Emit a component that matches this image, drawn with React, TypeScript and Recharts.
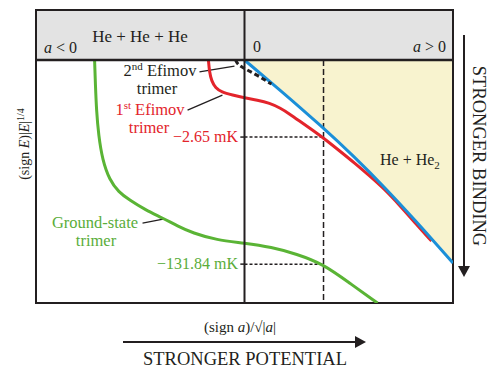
import React from 'react';
import { ComposedChart, Line, Area, XAxis, YAxis, ReferenceLine, ReferenceArea } from 'recharts';

// x: (sign a)/sqrt|a| scaled to [-100, 100]; y: (sign E)|E|^1/4 scaled, 0 = threshold, header band up to 20.6
const groundX = [-71.9, -71.5, -71.0, -70.0, -68.1, -64.7, -60.4, -55.2, -47.5, -39.3, -32.1, -24.9, -13.4, 0, 12.9, 24.9, 37.9, 50.4, 63.8];
const groundY = [0, -10.3, -20.6, -30.9, -41.2, -49.4, -54.3, -57.6, -61.7, -65.0, -68.3, -71.2, -74.1, -75.3, -77.0, -79.8, -84.0, -91.8, -100];

const firstX = [-17.3, -16.8, -15.8, -13.9, -11.0, -5.8, 0, 6.2, 12.0, 17.3, 21.6, 26.4, 31.2, 37.9, 45.6, 52.8, 60.0, 67.1, 74.3, 81.5, 89.7];
const firstY = [0, -4.9, -8.6, -11.5, -13.2, -14.4, -15.6, -16.5, -17.7, -19.8, -22.2, -25.1, -28.0, -32.1, -37.4, -42.4, -47.7, -53.1, -59.7, -66.7, -74.5];

const secondX = [-4.3, -3.4, -1.4, 5.3, 12.9];
const secondY = [0, -1.6, -2.9, -5.8, -9.9];

const dimerX = [0, 17.7, 36.9, 52.8, 67.1, 81.5, 100];
const dimerY = [0, -12.8, -27.2, -39.9, -52.3, -65.6, -83.5];

const heliumX = 37.9;          // physical 4He point
const level1 = -31.7;          // -2.65 mK
const level0 = -84.0;          // -131.84 mK
const levelLabels = ['\u22122.65 mK', '\u2212131.84 mK'];

const X_MIN = -100, X_MAX = 100, Y_MIN = -100, Y_TOP = 20.6;

const toPts = (xs: number[], ys: number[]) => xs.map((x, i) => ({ x, y: ys[i] }));
const groundData = toPts(groundX, groundY);
const firstData = toPts(firstX, firstY);
const secondData = toPts(secondX, secondY);
const dimerData = toPts(dimerX, dimerY);
const bandData = dimerX.map((x, i) => ({ x, band: [dimerY[i], 0] }));

const RED = '#e3242b';
const BLUE = '#1b8fd8';
const GREEN = '#5ab435';
const GREEN_T = '#5aad3a';
const INK = '#231f20';
const FONT = '"Liberation Serif", "DejaVu Serif", serif';

export default function App() {
  return (
    <div style={{ position: 'absolute', left: 0, top: 0, width: 500, height: 375, background: '#fff' }}>
      <ComposedChart width={500} height={375} margin={{ top: 10, right: 47, bottom: 72, left: 36 }}>
        <XAxis type="number" dataKey="x" domain={[X_MIN, X_MAX]} allowDataOverflow hide />
        <YAxis type="number" domain={[Y_MIN, Y_TOP]} allowDataOverflow hide />
        <Area data={bandData} dataKey="band" type="basis" stroke="none" fill="#f8f3cf" fillOpacity={1} isAnimationActive={false} />
        <ReferenceArea x1={X_MIN} x2={X_MAX} y1={0} y2={Y_TOP} fill="#e3e3e3" fillOpacity={1} stroke="none" />
        <ReferenceLine segment={[{ x: heliumX, y: 0 }, { x: heliumX, y: Y_MIN }]} stroke={INK} strokeWidth={1.5} strokeDasharray="6 3" />
        <ReferenceLine segment={[{ x: 0, y: level1 }, { x: heliumX, y: level1 }]} stroke={INK} strokeWidth={1.5} strokeDasharray="3 2" />
        <ReferenceLine segment={[{ x: 0, y: level0 }, { x: heliumX, y: level0 }]} stroke={INK} strokeWidth={1.5} strokeDasharray="3 2" />
        <ReferenceLine segment={[{ x: -2, y: level1 }, { x: 0, y: level1 }]} stroke={INK} strokeWidth={1.5} />
        <ReferenceLine segment={[{ x: -2, y: level0 }, { x: 0, y: level0 }]} stroke={INK} strokeWidth={1.5} />
        <ReferenceLine segment={[{ x: -21.6, y: -4.9 }, { x: -4.8, y: -2.5 }]} stroke={INK} strokeWidth={1.3} />
        <ReferenceLine segment={[{ x: -27.3, y: -20.6 }, { x: -10.6, y: -14.4 }]} stroke={INK} strokeWidth={1.3} />
        <ReferenceLine segment={[{ x: -48.9, y: -67.1 }, { x: -38.4, y: -65.4 }]} stroke={INK} strokeWidth={1.3} />
        <Line data={groundData} dataKey="y" type="basis" stroke={GREEN} strokeWidth={3} dot={false} isAnimationActive={false} />
        <Line data={firstData} dataKey="y" type="basis" stroke={RED} strokeWidth={3} dot={false} isAnimationActive={false} />
        <Line data={dimerData} dataKey="y" type="basis" stroke={BLUE} strokeWidth={3} dot={false} isAnimationActive={false} />
        <Line data={secondData} dataKey="y" type="basis" stroke={INK} strokeWidth={3} strokeDasharray="5 3" dot={false} isAnimationActive={false} />
        <ReferenceLine x={0} stroke={INK} strokeWidth={2} />
        <ReferenceLine y={0} stroke={INK} strokeWidth={2.5} />
        <ReferenceArea x1={X_MIN} x2={X_MAX} y1={Y_MIN} y2={Y_TOP} fill="none" stroke={INK} strokeWidth={2} />
      </ComposedChart>
      <svg width={500} height={375} style={{ position: 'absolute', left: 0, top: 0, pointerEvents: 'none' }} fontFamily={FONT}>
        <text x={140} y={42} textAnchor="middle" fontSize={17} fill={INK}>He + He + He</text>
        <text x={44} y={53} fontSize={16} fill={INK}><tspan fontStyle="italic">a</tspan> &lt; 0</text>
        <text x={253} y={52} fontSize={16} fill={INK}>0</text>
        <text x={446} y={52} textAnchor="end" fontSize={16} fill={INK}><tspan fontStyle="italic">a</tspan> &gt; 0</text>
        <text x={29} y={144} transform="rotate(-90, 29, 144)" textAnchor="middle" fontSize={14} fill={INK}>
          (sign <tspan fontStyle="italic">E</tspan>)|<tspan fontStyle="italic">E</tspan>|<tspan dy={-5} fontSize={10}>1/4</tspan>
        </text>
        <text x={240} y={332} textAnchor="middle" fontSize={15} fill={INK}>
          (sign <tspan fontStyle="italic">a</tspan>)/{'\u221A'}|<tspan fontStyle="italic">a</tspan>|
        </text>
        <line x1={123} y1={342} x2={357} y2={342} stroke={INK} strokeWidth={2} />
        <polygon points="355,336 366,342 355,348" fill={INK} />
        <text x={245} y={365} textAnchor="middle" fontSize={18.5} fill={INK}>STRONGER POTENTIAL</text>
        <line x1={464} y1={35} x2={464} y2={268} stroke={INK} strokeWidth={2} />
        <polygon points="458,266 464,277 470,266" fill={INK} />
        <text x={473} y={156} transform="rotate(90, 473, 156)" textAnchor="middle" fontSize={18.5} fill={INK}>STRONGER BINDING</text>
        <text x={380} y={165} fontSize={16} fill={INK}>He + He<tspan dy={4} fontSize={11}>2</tspan></text>
        <text x={160} y={76} textAnchor="middle" fontSize={16.5} fill={INK}>2<tspan dy={-6} fontSize={11}>nd</tspan><tspan dy={6}> Efimov</tspan></text>
        <text x={157} y={94} textAnchor="middle" fontSize={16.5} fill={INK}>trimer</text>
        <text x={150} y={115} textAnchor="middle" fontSize={16.5} fill={RED}>1<tspan dy={-6} fontSize={11}>st</tspan><tspan dy={6}> Efimov</tspan></text>
        <text x={149} y={133} textAnchor="middle" fontSize={16.5} fill={RED}>trimer</text>
        <text x={238} y={142} textAnchor="end" fontSize={16} fill={RED}>{levelLabels[0]}</text>
        <text x={238} y={269} textAnchor="end" fontSize={16} fill={GREEN_T}>{levelLabels[1]}</text>
        <text x={95} y={228} textAnchor="middle" fontSize={16.5} fill={GREEN_T}>Ground-state</text>
        <text x={96} y={246} textAnchor="middle" fontSize={16.5} fill={GREEN_T}>trimer</text>
      </svg>
    </div>
  );
}
